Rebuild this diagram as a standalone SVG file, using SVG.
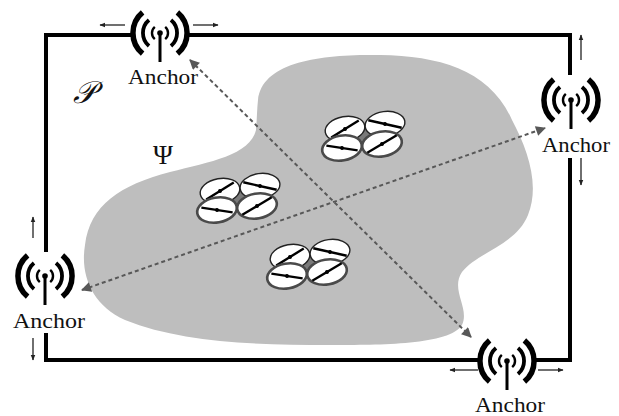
<svg xmlns="http://www.w3.org/2000/svg" width="619" height="416" viewBox="0 0 619 416">
  <style>
    .frame { fill: none; stroke: #000; stroke-width: 4; stroke-linecap: square; }
    .label { font-family: "Liberation Serif", "Times New Roman", serif; font-size: 21px; fill: #111; text-anchor: middle; }
    .move { stroke: #222; stroke-width: 1.3; fill: none; marker-end: url(#smallHead); }
    .range { stroke: #585858; stroke-width: 2; stroke-dasharray: 4 3; fill: none; marker-start: url(#rangeHead); marker-end: url(#rangeHead); }
    .arc { fill: none; stroke: #000; stroke-linecap: butt; }
    .prop { fill: #fff; stroke: #222; stroke-width: 1.4; }
    .propLow { fill: #fff; stroke: #4a4a4a; stroke-width: 2.6; }
    .blade { stroke: #000; stroke-width: 2.4; stroke-linecap: butt; }
  </style>
  <defs>
    <marker id="smallHead" viewBox="0 0 10 10" refX="9" refY="5" markerWidth="6" markerHeight="6" orient="auto" markerUnits="userSpaceOnUse">
      <path d="M0,1 L10,5 L0,9 Z" fill="#222"/>
    </marker>
    <marker id="rangeHead" viewBox="0 0 10 10" refX="9" refY="5" markerWidth="11" markerHeight="10" orient="auto-start-reverse" markerUnits="userSpaceOnUse">
      <path d="M0,0 L10,5 L0,10 Z" fill="#585858"/>
    </marker>
    <!-- radio anchor: dot at origin, stem downward, three pairs of arcs -->
    <g id="antenna">
      <path class="arc" stroke-width="5.5" d="M-17.4,-20.7 A27,27 0 0 0 -17.4,20.7 M17.4,-20.7 A27,27 0 0 1 17.4,20.7"/>
      <path class="arc" stroke-width="3.8" d="M-11,-13 A17,17 0 0 0 -11,13 M11,-13 A17,17 0 0 1 11,13"/>
      <path class="arc" stroke-width="2.4" d="M-5.2,-6.1 A8,8 0 0 0 -5.2,6.1 M5.2,-6.1 A8,8 0 0 1 5.2,6.1"/>
      <line x1="0" y1="0" x2="0" y2="29" stroke="#000" stroke-width="3"/>
      <circle cx="0" cy="0" r="2.8" fill="#000"/>
    </g>
    <!-- quadrotor seen from above: four propeller discs -->
    <g id="quad">
      <ellipse cx="0" cy="2" rx="18" ry="10" fill="#7a7a7a"/>
      <g transform="translate(-18,-7) rotate(-10)">
        <ellipse class="prop" rx="20" ry="12.5"/>
        <line class="blade" x1="-15" y1="6" x2="15" y2="-6"/>
        <circle r="2" fill="#000"/>
      </g>
      <g transform="translate(22,-12) rotate(-8)">
        <ellipse class="prop" rx="20" ry="12.5"/>
        <line class="blade" x1="-16" y1="-6" x2="16" y2="6"/>
        <circle r="2" fill="#000"/>
      </g>
      <g transform="translate(-21,12) rotate(-10)">
        <ellipse class="propLow" rx="20" ry="12.5"/>
        <line class="blade" x1="-15" y1="-5" x2="15" y2="5"/>
        <circle r="2" fill="#000"/>
      </g>
      <g transform="translate(19,8) rotate(-10)">
        <ellipse class="propLow" rx="20" ry="12.5"/>
        <line class="blade" x1="-16" y1="6" x2="16" y2="-6"/>
        <circle r="2" fill="#000"/>
      </g>
    </g>
  </defs>

  <rect width="619" height="416" fill="#fff"/>

  <!-- workspace boundary P, broken where the anchors sit -->
  <g id="boundary">
    <path class="frame" d="M130,35 H46 V250"/>
    <path class="frame" d="M46,335 V360 H478"/>
    <path class="frame" d="M535,360 H570 V160"/>
    <path class="frame" d="M570,73 V35 H188"/>
  </g>

  <!-- region Psi -->
  <g id="region">
    <path fill="#bebebe" d="M258,100 C262,62 320,54 380,55 C440,56 490,70 512,120 C528,150 540,185 528,215 C516,245 478,252 462,272 C450,290 470,308 462,325 C450,345 380,345 330,345 C250,345 180,342 125,320 C92,305 80,275 85,245 C90,205 120,185 170,172 C210,162 250,155 256,130 C257,118 257,108 258,100 Z"/>
  </g>

  <g id="labels">
    <text x="84" y="103" font-family="DejaVu Serif, serif" font-size="31" font-style="italic" text-anchor="middle" fill="#111">𝒫</text>
    <text x="163" y="164" font-family="Liberation Serif, serif" font-size="27" text-anchor="middle" fill="#111">Ψ</text>
  </g>

  <!-- ranging links between opposite anchors -->
  <g id="connectors">
    <line class="range" x1="190" y1="60" x2="471" y2="337"/>
    <line class="range" x1="82" y1="290" x2="545" y2="128"/>
    <line class="move" x1="125" y1="25" x2="100" y2="25"/>
    <line class="move" x1="193" y1="25" x2="218" y2="25"/>
    <line class="move" x1="581" y1="60" x2="581" y2="35"/>
    <line class="move" x1="581" y1="158" x2="581" y2="185"/>
    <line class="move" x1="33" y1="238" x2="33" y2="217"/>
    <line class="move" x1="33" y1="338" x2="33" y2="360"/>
    <line class="move" x1="478" y1="370" x2="450" y2="370"/>
    <line class="move" x1="538" y1="370" x2="563" y2="370"/>
  </g>

  <g id="anchor-top">
    <use href="#antenna" x="160" y="33"/>
    <text class="label" x="163" y="84" textLength="70" lengthAdjust="spacingAndGlyphs">Anchor</text>
  </g>
  <g id="anchor-right">
    <use href="#antenna" x="571" y="100"/>
    <text class="label" x="576" y="152" textLength="68" lengthAdjust="spacingAndGlyphs">Anchor</text>
  </g>
  <g id="anchor-left">
    <use href="#antenna" x="45" y="276"/>
    <text class="label" x="49" y="328" textLength="72" lengthAdjust="spacingAndGlyphs">Anchor</text>
  </g>
  <g id="anchor-bottom">
    <use href="#antenna" x="507" y="361"/>
    <text class="label" x="510" y="412" textLength="70" lengthAdjust="spacingAndGlyphs">Anchor</text>
  </g>

  <g id="uav-1"><use href="#quad" x="238" y="198"/></g>
  <g id="uav-2"><use href="#quad" x="363" y="136"/></g>
  <g id="uav-3"><use href="#quad" x="308" y="264"/></g>
</svg>
